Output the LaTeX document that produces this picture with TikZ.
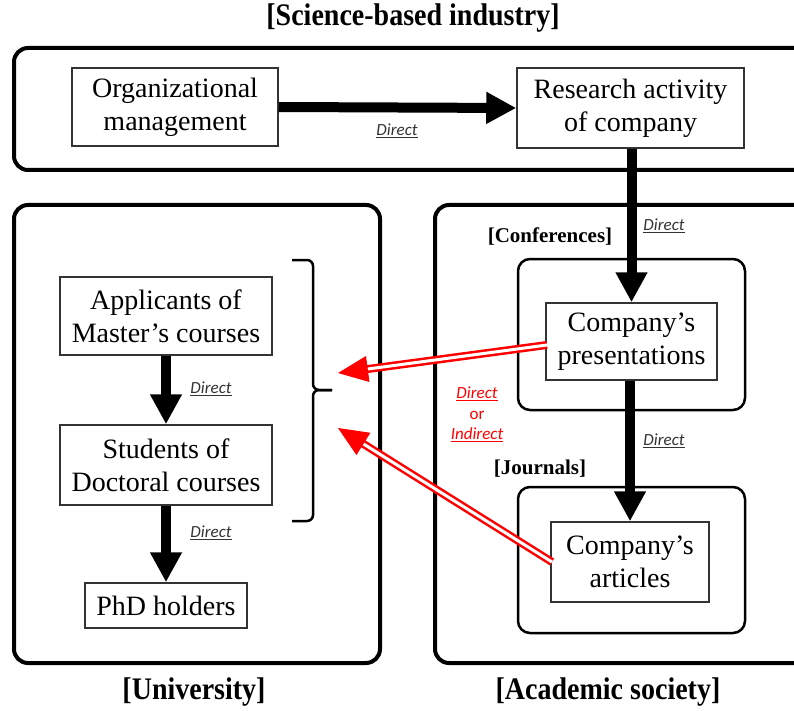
\documentclass[tikz,border=0pt]{standalone}
\usepackage{fontspec}
\setmainfont{Liberation Serif}
\newfontfamily\lblfont{Carlito}
\usetikzlibrary{arrows.meta,calc}
\begin{document}
\begin{tikzpicture}[x=1pt,y=-1pt,
  outerbox/.style={draw=black,line width=4pt,rounded corners=14pt},
  innerbox/.style={draw=black,line width=2.5pt,rounded corners=12pt},
  itembox/.style={draw=black!80,line width=1.5pt,align=center,inner sep=0pt,
    font=\fontsize{28}{33}\selectfont},
  grouptitle/.style={font=\bfseries\fontsize{28}{33}\selectfont},
  subtitle/.style={font=\bfseries\fontsize{21}{25}\selectfont},
  blackarrow/.style={line width=10pt,-{Triangle[length=30pt,width=30pt]}},
  redshaft/.style={draw=red,line width=2.5pt,double=white,double distance=3pt,shorten >=18pt},
  redhead/.style={red,line width=1pt,-{Triangle[length=30pt,width=26pt]}},
  dlbl/.style={font=\lblfont\itshape\fontsize{17}{19}\selectfont,text=black!80},
  rlbl/.style={font=\lblfont\itshape\fontsize{17}{19}\selectfont,text=red},
  rlblup/.style={font=\lblfont\fontsize{17}{19}\selectfont,text=red}
]
\useasboundingbox (0,0) rectangle (794,711);
\clip (0,0) rectangle (794,711);

% outer group boxes
\draw[outerbox] (14,48) rectangle (830,170);
\draw[outerbox] (14,205) rectangle (380,663);
\draw[outerbox] (435,205) rectangle (830,663);
\draw[innerbox] (518,259) rectangle (745,410);
\draw[innerbox] (518,487) rectangle (745,633);

% group titles
\node[grouptitle] (tind) at (413,18) {\scalebox{1}[1.12]{[Science-based industry]}};
\node[grouptitle] (tuni) at (194,692) {\scalebox{1}[1.12]{[University]}};
\node[grouptitle] (tacad) at (608,692) {\scalebox{1}[1.12]{[Academic society]}};
\node[subtitle] (tconf) at (550,237) {[Conferences]};
\node[subtitle] (tjour) at (540,469) {[Journals]};

% item boxes
\node[itembox,minimum width=206pt,minimum height=78pt] (org) at (175,107) {Organizational\\management};
\node[itembox,minimum width=227pt,minimum height=80pt] (res) at (630.5,108) {Research activity\\of company};
\node[itembox,minimum width=212pt,minimum height=78pt] (app) at (166,316) {Applicants of\\Master’s courses};
\node[itembox,minimum width=212pt,minimum height=80pt] (stu) at (166,465) {Students of\\Doctoral courses};
\node[itembox,minimum width=162pt,minimum height=45pt] (phd) at (166,605.5) {PhD holders};
\node[itembox,minimum width=171pt,minimum height=77pt] (pres) at (631.5,341.5) {Company’s\\presentations};
\node[itembox,minimum width=158pt,minimum height=80pt] (art) at (630,562) {Company’s\\articles};

% black arrows
\draw[blackarrow] (org.east) -- (res.west);
\draw[blackarrow] (app.south) -- (stu.north);
\draw[blackarrow] (stu.south) -- (phd.north);
\draw[blackarrow] (res.south -| pres.north) -- (pres.north);
\draw[blackarrow] (pres.south -| art.north) -- (art.north);

% labels
\node[dlbl] (l1) at (397,131) {\underline{Direct}};
\node[dlbl] (l2) at (211,389) {\underline{Direct}};
\node[dlbl] (l3) at (211,533) {\underline{Direct}};
\node[dlbl] (l4) at (664,226) {\underline{Direct}};
\node[dlbl] (l5) at (664,441) {\underline{Direct}};
\node[rlbl] (r1) at (477,394) {\underline{Direct}};
\node[rlblup] (r2) at (477,415) {or};
\node[rlbl] (r3) at (477,435) {\underline{Indirect}};

% brace
\draw[line width=2.5pt,rounded corners=6pt] (292,260) -- (313,260) -- (313,390) -- (332,390);
\draw[line width=2.5pt,rounded corners=6pt] (292,521) -- (313,521) -- (313,390) -- (332,390);

% red arrows
\coordinate (t1) at (338,373);
\coordinate (t2) at (338,428);
\coordinate (s1) at (547,345);
\coordinate (s2) at (552,562);
\draw[redshaft] (s1) -- (t1);
\draw[redhead] ($(t1)!30pt!(s1)$) -- (t1);
\draw[redshaft] (s2) -- (t2);
\draw[redhead] ($(t2)!30pt!(s2)$) -- (t2);
\end{tikzpicture}
\end{document}
